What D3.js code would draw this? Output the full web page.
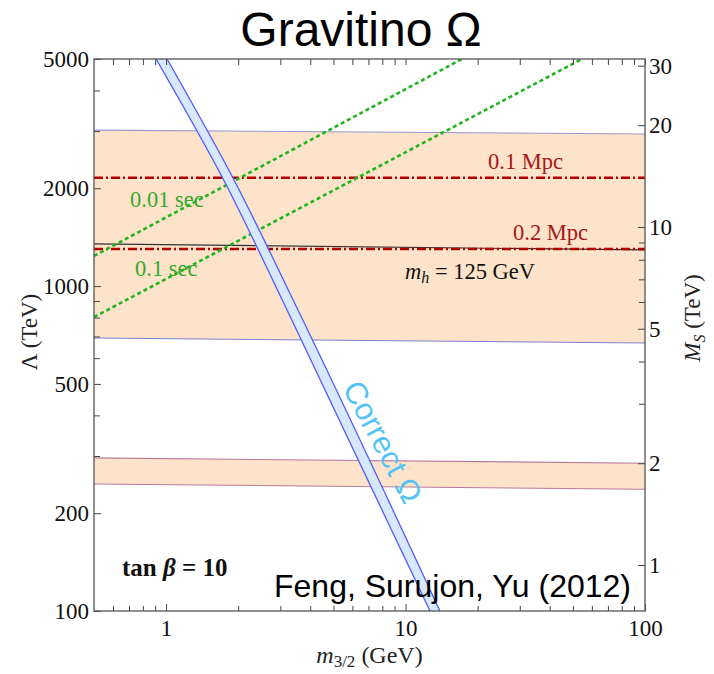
<!DOCTYPE html>
<html>
<head>
<meta charset="utf-8">
<script src="https://cdn.jsdelivr.net/npm/d3@7"></script>
<style>
  body { margin: 0; background: #fff; }
  .axis path { display: none; }
  .axis line { stroke: #444; stroke-width: 1; }
  .axis text { font-family: "Liberation Serif", "Times New Roman", serif; font-size: 23px; fill: #111; }
</style>
</head>
<body>
<div id="chart"></div>
<script>
// tick values
var xMajor = [1, 10, 100];
var xMinor = [0.6, 0.7, 0.8, 0.9, 2, 3, 4, 5, 6, 7, 8, 9, 20, 30, 40, 50, 60, 70, 80, 90];
var yMajor = [100, 200, 500, 1000, 2000, 5000];
var yMinor = [300, 400, 600, 700, 800, 900, 3000, 4000];
var msMajor = [1, 2, 5, 10, 20, 30];
var msMinor = [3, 4, 6, 7, 8, 9];

// shaded bands [m32, Lambda]
var band1Upper = [[0.5, 3020], [100, 2940]];
var band1Lower = [[0.5, 692], [100, 668]];
var band2Upper = [[0.5, 296], [100, 285]];
var band2Lower = [[0.5, 246], [100, 237]];
var mhLine = [[0.5, 1348], [100, 1292]];

// decay length lines (TeV)
var mpcValues = [2156, 1301];
var mpcLabels = ['0.1 Mpc', '0.2 Mpc'];

// lifetime lines
var sec001 = [[0.5, 1238], [17.2, 5000]];
var sec01 = [[0.5, 803], [54.5, 5000]];

// correct relic density band edges
var omegaLeft = [[0.908, 5000], [1.72, 2156], [3.20, 844], [12.65, 100]];
var omegaRight = [[1.009, 5000], [1.90, 2156], [3.555, 844], [13.92, 100]];

var width = 714, height = 674;
var margin = {top: 59, right: 69, bottom: 63, left: 94};

var svg = d3.select('#chart').append('svg')
  .attr('width', width)
  .attr('height', height);

var x = d3.scaleLog().domain([0.5, 100]).range([margin.left, width - margin.right]);
var y = d3.scaleLog().domain([100, 5000]).range([height - margin.bottom, margin.top]);
var yMs = d3.scaleLog().domain([0.731, 31.4]).range([height - margin.bottom, margin.top]);

svg.append('clipPath').attr('id', 'clip')
  .append('rect')
  .attr('x', margin.left).attr('y', margin.top)
  .attr('width', x.range()[1] - margin.left)
  .attr('height', y.range()[0] - margin.top);

var plot = svg.append('g').attr('clip-path', 'url(#clip)');

var line = d3.line().x(d => x(d[0])).y(d => y(d[1]));

function band(upper, lower, edgeTop, edgeBottom) {
  var poly = upper.concat(lower.slice().reverse());
  plot.append('path').attr('d', line(poly) + 'Z').attr('fill', '#fde3c9');
  plot.append('path').attr('d', line(upper)).attr('fill', 'none').attr('stroke', edgeTop).attr('stroke-width', 1.1);
  plot.append('path').attr('d', line(lower)).attr('fill', 'none').attr('stroke', edgeBottom).attr('stroke-width', 1.1);
}
band(band1Upper, band1Lower, '#9a96d2', '#7f7fd0');
band(band2Upper, band2Lower, '#b77a9c', '#b77a9c');

plot.append('path').attr('d', line(mhLine))
  .attr('fill', 'none').attr('stroke', '#333').attr('stroke-width', 1.2);

// Mpc dash-dot lines
plot.selectAll('.mpc').data(mpcValues).enter().append('line')
  .attr('x1', x(0.5)).attr('x2', x(100))
  .attr('y1', d => y(d)).attr('y2', d => y(d))
  .attr('stroke', '#b00000').attr('stroke-width', 2.6)
  .attr('stroke-dasharray', '9,3,2,3');

// lifetime dotted lines
[sec001, sec01].forEach(function(s) {
  plot.append('path').attr('d', line(s))
    .attr('fill', 'none').attr('stroke', '#1fb51f').attr('stroke-width', 2.6)
    .attr('stroke-dasharray', '4,3');
});

// correct omega band
var omegaLine = d3.line().x(d => x(d[0])).y(d => y(d[1])).curve(d3.curveMonotoneY);
var omegaPoly = omegaLeft.concat(omegaRight.slice().reverse());
plot.append('path').attr('d', d3.line().x(d => x(d[0])).y(d => y(d[1]))(omegaPoly) + 'Z')
  .attr('fill', '#d8e8ff');
[omegaLeft, omegaRight].forEach(function(e) {
  plot.append('path').attr('d', omegaLine(e))
    .attr('fill', 'none').attr('stroke', '#4d5cff').attr('stroke-width', 1.3);
});

// axes (ticks pointing inward)
var bottom = height - margin.bottom, right = width - margin.right;
function tick(g, axis) { g.attr('class', 'axis').call(axis); }

svg.append('g').attr('transform', 'translate(0,' + bottom + ')')
  .call(tick, d3.axisBottom(x).tickValues(xMajor).tickSize(-7).tickPadding(9).tickFormat(d3.format('d')));
svg.append('g').attr('transform', 'translate(0,' + bottom + ')')
  .call(tick, d3.axisBottom(x).tickValues(xMinor).tickSize(-5).tickFormat(''));
svg.append('g').attr('transform', 'translate(0,' + margin.top + ')')
  .call(tick, d3.axisTop(x).tickValues(xMajor.concat(xMinor)).tickSize(-6).tickFormat(''));

svg.append('g').attr('transform', 'translate(' + margin.left + ',0)')
  .call(tick, d3.axisLeft(y).tickValues(yMajor).tickSize(-7).tickPadding(5).tickFormat(d3.format('d')));
svg.append('g').attr('transform', 'translate(' + margin.left + ',0)')
  .call(tick, d3.axisLeft(y).tickValues(yMinor).tickSize(-6).tickFormat(''));

svg.append('g').attr('transform', 'translate(' + right + ',0)')
  .call(tick, d3.axisRight(yMs).tickValues(msMajor).tickSize(-7).tickPadding(4).tickFormat(d3.format('d')));
svg.append('g').attr('transform', 'translate(' + right + ',0)')
  .call(tick, d3.axisRight(yMs).tickValues(msMinor).tickSize(-6).tickFormat(''));

svg.append('rect')
  .attr('x', margin.left).attr('y', margin.top)
  .attr('width', right - margin.left).attr('height', bottom - margin.top)
  .attr('fill', 'none').attr('stroke', '#555').attr('stroke-width', 1.3);

// labels
var serif = '"Liberation Serif", "Times New Roman", serif';
var sans = '"Liberation Sans", Arial, sans-serif';

svg.append('text').attr('x', 361).attr('y', 46)
  .attr('text-anchor', 'middle').style('font-family', sans).style('font-size', '48px')
  .text('Gravitino Ω');

var xt = svg.append('text').attr('x', (margin.left + right) / 2).attr('y', 663)
  .attr('text-anchor', 'middle').style('font-family', serif).style('font-size', '24px').attr('fill', '#222');
xt.append('tspan').style('font-style', 'italic').text('m');
xt.append('tspan').attr('dy', 4).style('font-size', '17px').text('3/2');
xt.append('tspan').attr('dy', -4).text(' (GeV)');

svg.append('text').attr('transform', 'translate(37,332) rotate(-90)')
  .attr('text-anchor', 'middle').style('font-family', serif).style('font-size', '23px').attr('fill', '#222')
  .text('Λ (TeV)');

var rt = svg.append('text').attr('transform', 'translate(700,318) rotate(-90)')
  .attr('text-anchor', 'middle').style('font-family', serif).style('font-size', '23px').attr('fill', '#222');
rt.append('tspan').style('font-style', 'italic').text('M');
rt.append('tspan').attr('dy', 5).style('font-style', 'italic').style('font-size', '16px').text('S');
rt.append('tspan').attr('dy', -5).text(' (TeV)');

svg.selectAll('.mpcLabel').data(mpcLabels).enter().append('text')
  .attr('x', (d, i) => i === 0 ? 488 : 513)
  .attr('y', (d, i) => y(mpcValues[i]) - 9)
  .style('font-family', serif).style('font-size', '22.5px').attr('fill', '#a81818')
  .text(d => d);

svg.append('text').attr('x', 130).attr('y', 207)
  .style('font-family', serif).style('font-size', '22.5px').attr('fill', '#38a82c').text('0.01 sec');
svg.append('text').attr('x', 135).attr('y', 276)
  .style('font-family', serif).style('font-size', '22.5px').attr('fill', '#38a82c').text('0.1 sec');

var mh = svg.append('text').attr('x', 405).attr('y', 279)
  .style('font-family', serif).style('font-size', '22.5px').attr('fill', '#111');
mh.append('tspan').style('font-style', 'italic').text('m');
mh.append('tspan').attr('dy', 4).style('font-style', 'italic').style('font-size', '16px').text('h');
mh.append('tspan').attr('dy', -4).text(' = 125 GeV');

var tb = svg.append('text').attr('x', 122).attr('y', 576)
  .style('font-family', serif).style('font-size', '25px').style('font-weight', 'bold').attr('fill', '#111');
tb.append('tspan').text('tan ');
tb.append('tspan').style('font-style', 'italic').text('β');
tb.append('tspan').text(' = 10');

svg.append('text').attr('x', 274).attr('y', 597)
  .style('font-family', sans).style('font-size', '32px').attr('fill', '#000')
  .text('Feng, Surujon, Yu (2012)');

svg.append('text').attr('transform', 'translate(342,388) rotate(62)')
  .style('font-family', sans).style('font-size', '31px').attr('fill', '#55c3f5')
  .text('Correct Ω');
</script>
</body>
</html>
